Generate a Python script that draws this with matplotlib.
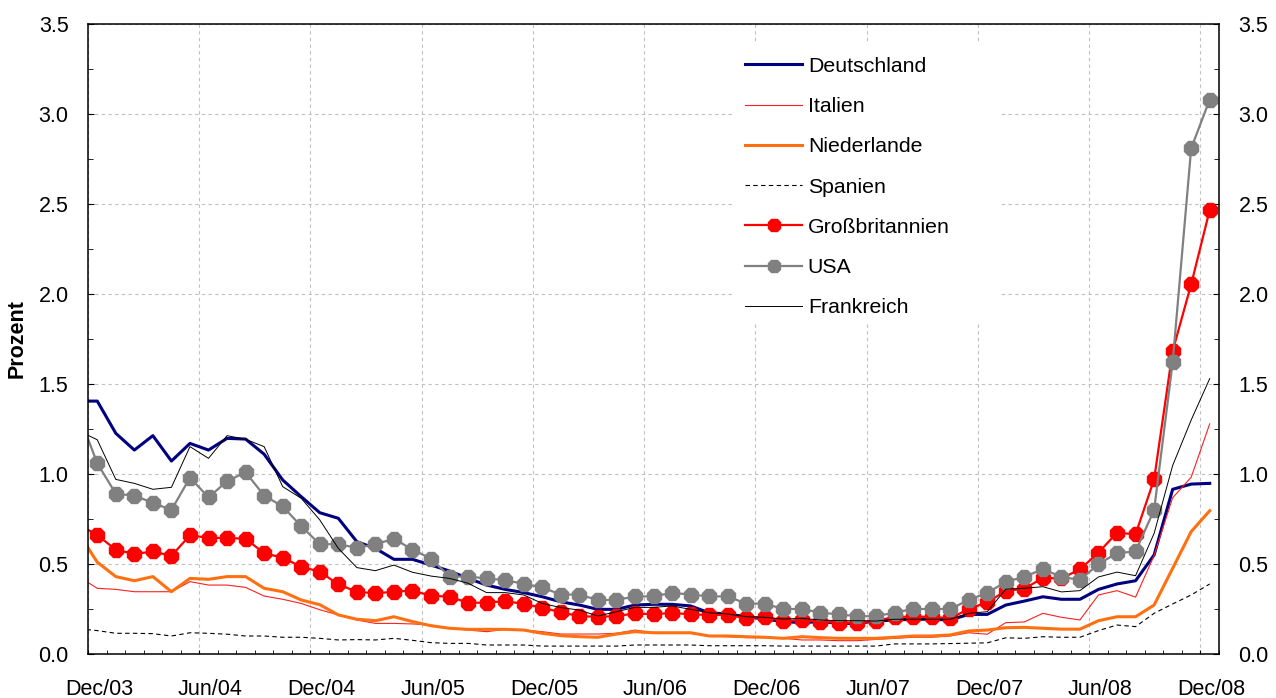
import numpy as np
import matplotlib.pyplot as plt
from matplotlib.patches import Rectangle
from matplotlib.ticker import MultipleLocator, FormatStrFormatter
from matplotlib.transforms import ScaledTranslation

plt.rcParams['font.family'] = ['Liberation Sans', 'DejaVu Sans']

# monthly values, first one (Nov/03) lies just left of the axis
monate = np.arange(-1, 61) + 0.5
xticks = np.arange(0, 61, 6)
xlabels = ['Dec/03', 'Jun/04', 'Dec/04', 'Jun/05', 'Dec/05', 'Jun/06',
           'Dec/06', 'Jun/07', 'Dec/07', 'Jun/08', 'Dec/08']

deutschland = [1.405, 1.405, 1.226, 1.133, 1.213, 1.072, 1.17, 1.133, 1.198, 1.194,
               1.11, 0.967, 0.874, 0.785, 0.754, 0.624, 0.587, 0.526, 0.526, 0.494,
               0.461, 0.42, 0.383, 0.359, 0.341, 0.318, 0.29, 0.272, 0.248, 0.248,
               0.272, 0.276, 0.276, 0.267, 0.229, 0.222, 0.207, 0.194, 0.18, 0.174,
               0.18, 0.17, 0.17, 0.183, 0.189, 0.193, 0.193, 0.189, 0.22, 0.22,
               0.272, 0.294, 0.318, 0.304, 0.304, 0.359, 0.389, 0.407, 0.55, 0.915,
               0.944, 0.948]
italien = [0.43, 0.365, 0.359, 0.346, 0.346, 0.346, 0.402, 0.383, 0.383, 0.37,
           0.322, 0.304, 0.281, 0.246, 0.217, 0.189, 0.17, 0.17, 0.167, 0.161,
           0.143, 0.133, 0.124, 0.137, 0.133, 0.124, 0.111, 0.111, 0.111, 0.115,
           0.133, 0.118, 0.115, 0.115, 0.1, 0.096, 0.091, 0.091, 0.087, 0.078,
           0.078, 0.074, 0.074, 0.081, 0.087, 0.093, 0.093, 0.1, 0.118, 0.11,
           0.174, 0.178, 0.226, 0.204, 0.189, 0.328, 0.352, 0.316, 0.547, 0.868,
           0.982, 1.279]
niederlande = [0.67, 0.51, 0.43, 0.407, 0.43, 0.346, 0.42, 0.415, 0.43, 0.43,
               0.365, 0.346, 0.3, 0.274, 0.217, 0.193, 0.185, 0.207, 0.18, 0.157,
               0.143, 0.137, 0.137, 0.137, 0.133, 0.115, 0.102, 0.096, 0.093, 0.111,
               0.124, 0.118, 0.118, 0.118, 0.1, 0.1, 0.096, 0.093, 0.087, 0.096,
               0.091, 0.087, 0.087, 0.087, 0.093, 0.1, 0.1, 0.106, 0.128, 0.133,
               0.146, 0.148, 0.143, 0.138, 0.138, 0.185, 0.207, 0.207, 0.272, 0.476,
               0.68, 0.796]
spanien = [0.14, 0.13, 0.115, 0.115, 0.113, 0.1, 0.118, 0.115, 0.11, 0.1,
           0.1, 0.093, 0.093, 0.087, 0.078, 0.08, 0.078, 0.087, 0.076, 0.063,
           0.059, 0.059, 0.05, 0.05, 0.05, 0.044, 0.044, 0.044, 0.044, 0.044,
           0.05, 0.05, 0.05, 0.05, 0.046, 0.046, 0.046, 0.046, 0.044, 0.044,
           0.044, 0.044, 0.044, 0.044, 0.056, 0.056, 0.056, 0.058, 0.06, 0.062,
           0.09, 0.087, 0.096, 0.093, 0.093, 0.13, 0.161, 0.152, 0.226, 0.278,
           0.328, 0.389]
grossbritannien = [0.72, 0.66, 0.58, 0.555, 0.57, 0.545, 0.66, 0.645, 0.645, 0.64,
                   0.56, 0.535, 0.485, 0.457, 0.387, 0.346, 0.337, 0.346, 0.352, 0.324,
                   0.318, 0.285, 0.285, 0.294, 0.278, 0.257, 0.232, 0.21, 0.207, 0.21,
                   0.226, 0.22, 0.229, 0.22, 0.217, 0.217, 0.198, 0.207, 0.183, 0.189,
                   0.18, 0.174, 0.174, 0.183, 0.207, 0.207, 0.207, 0.198, 0.25, 0.288,
                   0.35, 0.363, 0.422, 0.42, 0.47, 0.563, 0.674, 0.665, 0.97, 1.683,
                   2.054, 2.467]
usa = [1.33, 1.06, 0.89, 0.88, 0.84, 0.80, 0.98, 0.87, 0.96, 1.01,
       0.88, 0.82, 0.71, 0.61, 0.61, 0.59, 0.61, 0.64, 0.58, 0.53,
       0.43, 0.43, 0.42, 0.41, 0.39, 0.37, 0.33, 0.33, 0.30, 0.30,
       0.32, 0.32, 0.34, 0.33, 0.32, 0.32, 0.28, 0.28, 0.25, 0.25,
       0.23, 0.22, 0.21, 0.21, 0.23, 0.25, 0.25, 0.25, 0.30, 0.34,
       0.40, 0.43, 0.47, 0.43, 0.41, 0.50, 0.56, 0.57, 0.80, 1.62,
       2.81, 3.08]
frankreich = [1.24, 1.19, 0.97, 0.948, 0.915, 0.926, 1.152, 1.087, 1.213, 1.193,
              1.152, 0.93, 0.865, 0.745, 0.587, 0.48, 0.463, 0.494, 0.454, 0.433,
              0.42, 0.393, 0.341, 0.341, 0.328, 0.281, 0.258, 0.244, 0.211, 0.235,
              0.259, 0.259, 0.267, 0.248, 0.229, 0.222, 0.207, 0.204, 0.194, 0.198,
              0.189, 0.185, 0.185, 0.183, 0.193, 0.193, 0.193, 0.193, 0.226, 0.235,
              0.36, 0.365, 0.374, 0.345, 0.352, 0.428, 0.455, 0.435, 0.67, 1.047,
              1.30, 1.53]

fig = plt.figure(figsize=(12.76, 6.98), dpi=100)
ax = fig.add_axes([88/1276, 44/698, 1131/1276, 630/698])

ax.plot(monate, deutschland, color='#000080', lw=2.2, label='Deutschland')
ax.plot(monate, italien, color='#ff2020', lw=0.8, label='Italien')
ax.plot(monate, niederlande, color='#ff7010', lw=2.2, label='Niederlande')
ax.plot(monate, spanien, color='black', lw=0.8, ls=(0, (4, 3)), label='Spanien')
ax.plot(monate, grossbritannien, color='#ff0000', lw=1.6, marker='8', ms=10.5,
        label='Großbritannien')
ax.plot(monate, usa, color='#808080', lw=1.6, marker='8', ms=10.5, label='USA')
ax.plot(monate, frankreich, color='black', lw=0.7, label='Frankreich')

ax.set_xlim(0, 61)
ax.set_ylim(0, 3.5)
ax.set_xticks(xticks, xlabels)
ax.xaxis.set_minor_locator(MultipleLocator(1))
ax.yaxis.set_major_locator(MultipleLocator(0.5))
ax.yaxis.set_minor_locator(MultipleLocator(0.25))
ax.yaxis.set_major_formatter(FormatStrFormatter('%.1f'))

ax.tick_params(axis='both', which='both', direction='in', labelsize=15.5, color='black')
ax.tick_params(axis='y', which='both', right=True, labelright=True, pad=14)
ax.tick_params(axis='y', which='major', length=4.5)
ax.tick_params(axis='y', which='minor', length=3.5)
ax.tick_params(axis='x', which='both', length=3, pad=18)

# labels sit half a month right of the grid lines
for lab in ax.get_xticklabels():
    lab.set_transform(lab.get_transform() + ScaledTranslation(0.11, 0, fig.dpi_scale_trans))

ax.grid(True, which='major', color='#c0c0c0', ls=(0, (3, 3)), lw=0.8)
for s in ax.spines.values():
    s.set_linewidth(1.1)

# white area behind the legend
ax.add_patch(Rectangle((0.572, 0.527), 0.234, 0.443, transform=ax.transAxes,
                       facecolor='white', edgecolor='none', zorder=1.8))

ax.legend(loc='upper left', bbox_to_anchor=(0.581, 0.948), frameon=False,
          fontsize=15.3, handlelength=2.7, handletextpad=0.25, labelspacing=1.0,
          borderpad=0, borderaxespad=0, numpoints=1, markerscale=0.9)

fig.text(17/1276, 1 - 339/698, 'Prozent', rotation=90, fontweight='bold',
         fontsize=15.5, ha='center', va='center')

fig.savefig('out.png', dpi=100)
